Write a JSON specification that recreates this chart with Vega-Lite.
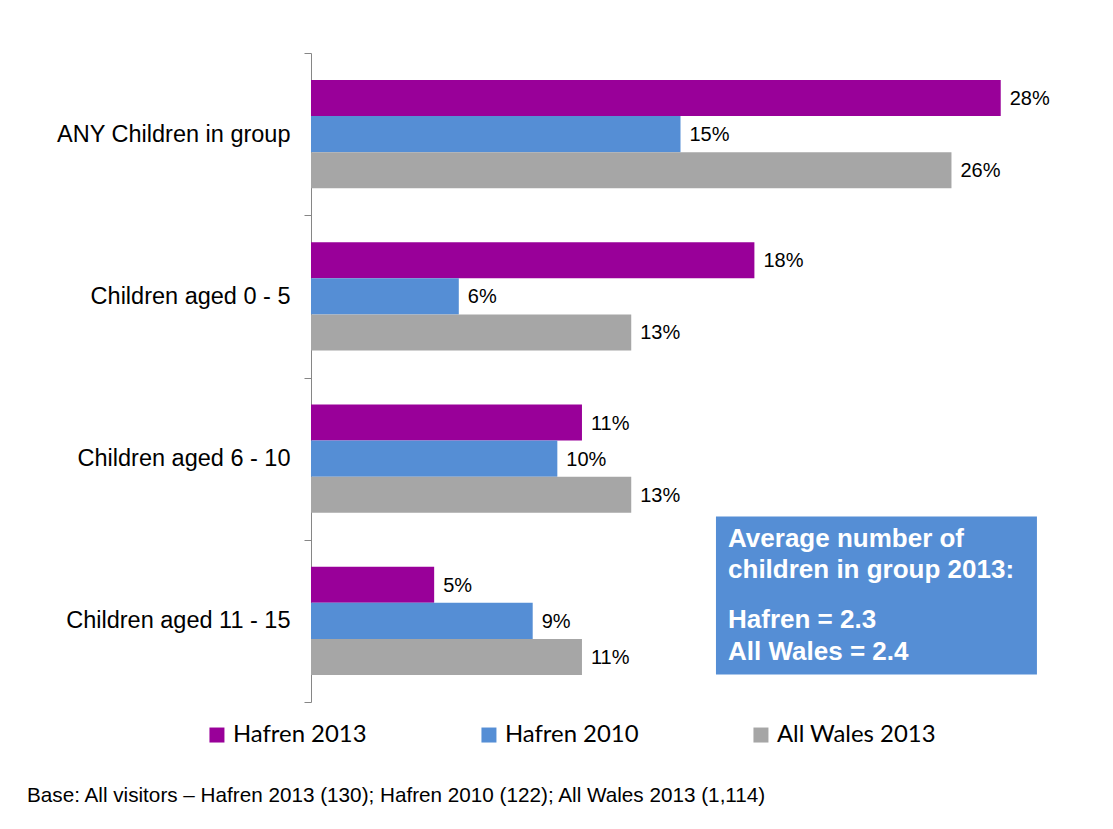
{
  "$schema": "https://vega.github.io/schema/vega-lite/v6.json",
  "autosize": {"type": "none"},
  "width": 739,
  "height": 649,
  "padding": {"left": 311, "top": 53, "right": 63, "bottom": 127},
  "background": "white",
  "config": {"view": {"stroke": null}},
  "title": {
    "text": "Base: All visitors – Hafren 2013 (130); Hafren 2010 (122); All Wales 2013 (1,114)",
    "orient": "bottom",
    "anchor": "start",
    "frame": "group",
    "dx": -284,
    "offset": 39,
    "baseline": "top",
    "font": "Liberation Sans",
    "fontSize": 20.7,
    "fontWeight": "normal",
    "color": "#000000"
  },
  "resolve": {"scale": {"y": "independent"}},
  "layer": [
    {
      "data": {
        "values": [
          {"category": "ANY Children in group", "series": "Hafren 2013", "value": 0.28},
          {"category": "ANY Children in group", "series": "Hafren 2010", "value": 0.15},
          {"category": "ANY Children in group", "series": "All Wales 2013", "value": 0.26},
          {"category": "Children aged 0 - 5", "series": "Hafren 2013", "value": 0.18},
          {"category": "Children aged 0 - 5", "series": "Hafren 2010", "value": 0.06},
          {"category": "Children aged 0 - 5", "series": "All Wales 2013", "value": 0.13},
          {"category": "Children aged 6 - 10", "series": "Hafren 2013", "value": 0.11},
          {"category": "Children aged 6 - 10", "series": "Hafren 2010", "value": 0.10},
          {"category": "Children aged 6 - 10", "series": "All Wales 2013", "value": 0.13},
          {"category": "Children aged 11 - 15", "series": "Hafren 2013", "value": 0.05},
          {"category": "Children aged 11 - 15", "series": "Hafren 2010", "value": 0.09},
          {"category": "Children aged 11 - 15", "series": "All Wales 2013", "value": 0.11}
        ]
      },
      "encoding": {
        "y": {
          "field": "category",
          "type": "nominal",
          "sort": ["ANY Children in group", "Children aged 0 - 5", "Children aged 6 - 10", "Children aged 11 - 15"],
          "scale": {"paddingInner": 0, "paddingOuter": 0},
          "axis": {
            "title": null,
            "domainColor": "#868686",
            "tickColor": "#868686",
            "tickSize": 7,
            "tickBand": "extent",
            "labelPadding": 14,
            "labelFont": "Liberation Sans",
            "labelFontSize": 23.5,
            "labelColor": "#000000",
            "labelLimit": 400
          }
        },
        "yOffset": {
          "field": "series",
          "type": "nominal",
          "sort": ["Hafren 2013", "Hafren 2010", "All Wales 2013"],
          "scale": {"paddingInner": 0, "paddingOuter": 0.75}
        },
        "x": {
          "field": "value",
          "type": "quantitative",
          "scale": {"domain": [0, 0.3], "nice": false},
          "axis": null
        }
      },
      "layer": [
        {
          "mark": {"type": "bar"},
          "encoding": {
            "color": {
              "field": "series",
              "type": "nominal",
              "sort": ["Hafren 2013", "Hafren 2010", "All Wales 2013"],
              "scale": {
                "domain": ["Hafren 2013", "Hafren 2010", "All Wales 2013"],
                "range": ["#990099", "#558ED5", "#A6A6A6"]
              },
              "legend": {
                "title": null,
                "orient": "none",
                "legendX": -106,
                "legendY": 670,
                "direction": "horizontal",
                "columns": 3,
                "padding": 0,
                "symbolType": "square",
                "symbolSize": 225,
                "symbolStrokeWidth": 0,
                "symbolOpacity": 1,
                "labelOffset": 4,
                "columnPadding": 110,
                "labelFont": "Lato",
                "labelFontSize": 23.9,
                "labelColor": "#000000",
                "labelLimit": 300
              }
            }
          }
        },
        {
          "mark": {
            "type": "text",
            "align": "left",
            "baseline": "middle",
            "dx": 9,
            "dy": 1,
            "font": "Liberation Sans",
            "fontSize": 20,
            "color": "#000000"
          },
          "encoding": {
            "text": {"field": "value", "type": "quantitative", "format": ".0%"}
          }
        }
      ]
    },
    {
      "data": {
        "values": [
          {"kind": "box", "x": 0.1644, "x2": 0.2947, "y": 2.857, "y2": 3.83}
        ]
      },
      "mark": {"type": "rect", "color": "#558ED5"},
      "encoding": {
        "x": {"field": "x", "type": "quantitative"},
        "x2": {"field": "x2"},
        "y": {
          "field": "y",
          "type": "quantitative",
          "scale": {"domain": [0, 4], "reverse": true, "nice": false, "zero": false},
          "axis": null
        },
        "y2": {"field": "y2"}
      }
    },
    {
      "data": {
        "values": [
          {"line": "Average number of", "x": 0.1693, "y": 3.044},
          {"line": "children in group 2013:", "x": 0.1693, "y": 3.236},
          {"line": "Hafren = 2.3", "x": 0.1693, "y": 3.544},
          {"line": "All Wales = 2.4", "x": 0.1693, "y": 3.741}
        ]
      },
      "mark": {
        "type": "text",
        "align": "left",
        "baseline": "alphabetic",
        "font": "Liberation Sans",
        "fontWeight": "bold",
        "fontSize": 26,
        "color": "#ffffff"
      },
      "encoding": {
        "x": {"field": "x", "type": "quantitative"},
        "y": {
          "field": "y",
          "type": "quantitative",
          "scale": {"domain": [0, 4], "reverse": true, "nice": false, "zero": false},
          "axis": null
        },
        "text": {"field": "line", "type": "nominal"}
      }
    }
  ]
}
